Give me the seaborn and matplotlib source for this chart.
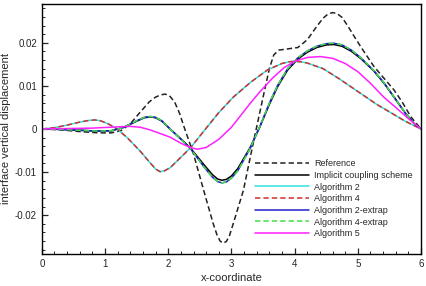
import numpy as np
import pandas as pd
import seaborn as sns
import matplotlib
matplotlib.use("Agg")
import matplotlib.pyplot as plt
from matplotlib.ticker import MultipleLocator, FuncFormatter

# values
x_ref = [0, 0.3, 0.6, 0.9, 1.1, 1.25, 1.4, 1.55, 1.7, 1.8, 1.88, 1.95, 2.02, 2.1, 2.18,
         2.25, 2.4, 2.56, 2.71, 2.77, 2.82, 2.87, 2.92, 2.97, 3.03, 3.19, 3.3, 3.41,
         3.51, 3.6, 3.67, 3.75, 3.9, 4.05, 4.2, 4.35, 4.45, 4.53, 4.6, 4.67, 4.75,
         4.85, 4.95, 5.05, 5.25, 5.4, 5.57, 5.7, 5.84, 6.0]
y_ref = [0, -0.0002, -0.0006, -0.0009, -0.0009, -0.0004, 0.0012, 0.0038, 0.0063,
         0.0074, 0.0079, 0.0081, 0.0077, 0.0063, 0.0036, 0.0005, -0.0058, -0.0142,
         -0.0219, -0.0245, -0.0260, -0.0265, -0.0261, -0.0247, -0.0219, -0.0142,
         -0.0064, 0.0012, 0.0080, 0.0140, 0.0172, 0.0183, 0.0186, 0.0189, 0.0207,
         0.0238, 0.0257, 0.0267, 0.0270, 0.0268, 0.0259, 0.0237, 0.0213, 0.0190,
         0.0146, 0.0120, 0.0091, 0.0063, 0.0028, 0]

x_imp = [0, 0.3, 0.6, 0.9, 1.1, 1.3, 1.5, 1.62, 1.72, 1.8, 1.9, 2.03, 2.2, 2.35, 2.56,
         2.7, 2.78, 2.85, 2.92, 3.0, 3.1, 3.3, 3.45, 3.6, 3.73, 3.89, 4.05, 4.2, 4.35,
         4.5, 4.62, 4.75, 4.9, 5.05, 5.25, 5.41, 5.6, 5.75, 5.9, 6.0]
y_imp = [0, -0.0001, -0.0003, -0.0005, -0.0004, 0.0004, 0.0018, 0.0026, 0.0028,
         0.0026, 0.0018, 0.0000, -0.0023, -0.0044, -0.0082, -0.0106, -0.0116,
         -0.0119, -0.0117, -0.0109, -0.0092, -0.0042, 0.0005, 0.0057, 0.0098, 0.0137,
         0.0162, 0.0178, 0.0189, 0.0195, 0.0196, 0.0192, 0.0180, 0.0163, 0.0135,
         0.0107, 0.0068, 0.0037, 0.0011, 0]

x_alg24 = [0, 0.2, 0.4, 0.6, 0.75, 0.84, 0.93, 1.05, 1.19, 1.35, 1.56, 1.71, 1.8,
           1.87, 1.94, 2.03, 2.19, 2.35, 2.59, 2.8, 3.03, 3.3, 3.57, 3.8, 3.92, 4.0,
           4.1, 4.2, 4.45, 4.7, 4.89, 5.1, 5.3, 5.52, 5.75, 6.0]
y_alg2 = [0, 0.0003, 0.0009, 0.0016, 0.0020, 0.0021, 0.0019, 0.0012, 0.0000, -0.0020,
          -0.0052, -0.0078, -0.0093, -0.0099, -0.0097, -0.0090, -0.0067, -0.0044,
          0.0000, 0.0038, 0.0074, 0.0108, 0.0137, 0.0152, 0.0156, 0.0157, 0.0156,
          0.0153, 0.0140, 0.0117, 0.0098, 0.0077, 0.0057, 0.0038, 0.0018, 0]
y_alg4 = [0, 0.0003, 0.0009, 0.0016, 0.0020, 0.0021, 0.0019, 0.0012, 0.0000, -0.0020,
          -0.0052, -0.0078, -0.0093, -0.0099, -0.0097, -0.0090, -0.0067, -0.0044,
          0.0000, 0.0038, 0.0074, 0.0108, 0.0137, 0.0152, 0.0156, 0.0157, 0.0156,
          0.0153, 0.0140, 0.0117, 0.0098, 0.0077, 0.0057, 0.0038, 0.0018, 0]

x_ext = x_imp
y_alg2_ext = [0, -0.0001, -0.0003, -0.0005, -0.0004, 0.0004, 0.0019, 0.0027, 0.0029,
              0.0027, 0.0019, 0.0000, -0.0024, -0.0045, -0.0087, -0.0112, -0.0122,
              -0.0125, -0.0123, -0.0114, -0.0097, -0.0044, 0.0006, 0.0060, 0.0101,
              0.0140, 0.0165, 0.0181, 0.0192, 0.0198, 0.0199, 0.0195, 0.0183, 0.0165,
              0.0136, 0.0108, 0.0069, 0.0037, 0.0011, 0]
y_alg4_ext = [0, -0.0001, -0.0003, -0.0005, -0.0004, 0.0004, 0.0019, 0.0027, 0.0029,
              0.0027, 0.0019, 0.0000, -0.0024, -0.0045, -0.0087, -0.0112, -0.0122,
              -0.0125, -0.0123, -0.0114, -0.0097, -0.0044, 0.0006, 0.0060, 0.0101,
              0.0140, 0.0165, 0.0181, 0.0192, 0.0198, 0.0199, 0.0195, 0.0183, 0.0165,
              0.0136, 0.0108, 0.0069, 0.0037, 0.0011, 0]

x_alg5 = [0, 0.4, 0.8, 1.2, 1.4, 1.56, 1.71, 1.9, 2.03, 2.2, 2.35, 2.46, 2.6, 2.8, 3.0,
          3.15, 3.3, 3.46, 3.65, 3.83, 4.0, 4.2, 4.41, 4.6, 4.8, 5.0, 5.2, 5.41, 5.6,
          5.8, 6.0]
y_alg5 = [0, 0.0001, 0.0002, 0.0005, 0.0006, 0.0004, -0.0002, -0.0012, -0.0019,
          -0.0033, -0.0043, -0.0047, -0.0043, -0.0024, 0.0004, 0.0032, 0.0060, 0.0088,
          0.0118, 0.0142, 0.0157, 0.0166, 0.0168, 0.0164, 0.0152, 0.0133, 0.0106,
          0.0074, 0.0050, 0.0024, 0]

sns.set_style("ticks")
plt.rcParams["font.family"] = ["Liberation Sans", "DejaVu Sans"]
plt.rcParams["xtick.direction"] = "in"
plt.rcParams["ytick.direction"] = "in"

fig = plt.figure(figsize=(4.27, 2.86), dpi=100)
ax = fig.add_axes([0.098, 0.112, 0.888, 0.874])

dash = (3.5, 2)
series = [
    (x_ref, y_ref, "Reference", "#222222", dash),
    (x_imp, y_imp, "Implicit coupling scheme", "black", None),
    (x_alg24, y_alg2, "Algorithm 2", "#33e0e0", None),
    (x_alg24, y_alg4, "Algorithm 4", "#d03030", dash),
    (x_ext, y_alg2_ext, "Algorithm 2-extrap", "#2020cc", None),
    (x_ext, y_alg4_ext, "Algorithm 4-extrap", "#44dd44", dash),
    (x_alg5, y_alg5, "Algorithm 5", "#ff20ff", None),
]
for xs, ys, name, col, ds in series:
    sns.lineplot(x=xs, y=ys, ax=ax, color=col, label=name, lw=1.1)
    if ds is not None:
        ax.lines[-1].set_dashes(ds)

ax.set_xlim(0, 6)
ax.set_ylim(-0.029, 0.029)
ax.xaxis.set_major_locator(MultipleLocator(1))
ax.xaxis.set_minor_locator(MultipleLocator(0.2))
ax.yaxis.set_major_locator(MultipleLocator(0.01))
ax.yaxis.set_minor_locator(MultipleLocator(0.002))
ax.yaxis.set_major_formatter(FuncFormatter(lambda v, p: "0" if abs(v) < 1e-9 else f"{v:.2f}"))
ax.tick_params(which="major", length=4, width=0.9, labelsize=7)
ax.tick_params(which="minor", length=2, width=0.7)
for s in ax.spines.values():
    s.set_linewidth(1.0)
    s.set_color("black")

ax.set_xlabel("x-coordinate", fontsize=8, labelpad=3)
ax.set_ylabel("interface vertical displacement", fontsize=8, labelpad=3)

leg = ax.legend(loc="lower right", bbox_to_anchor=(1.0, 0.03), frameon=False,
                fontsize=6.5, handlelength=6, handletextpad=0.6, labelspacing=0.3)
for h in leg.get_lines():
    h.set_linewidth(1.1)

fig.savefig("out.png", dpi=100)
